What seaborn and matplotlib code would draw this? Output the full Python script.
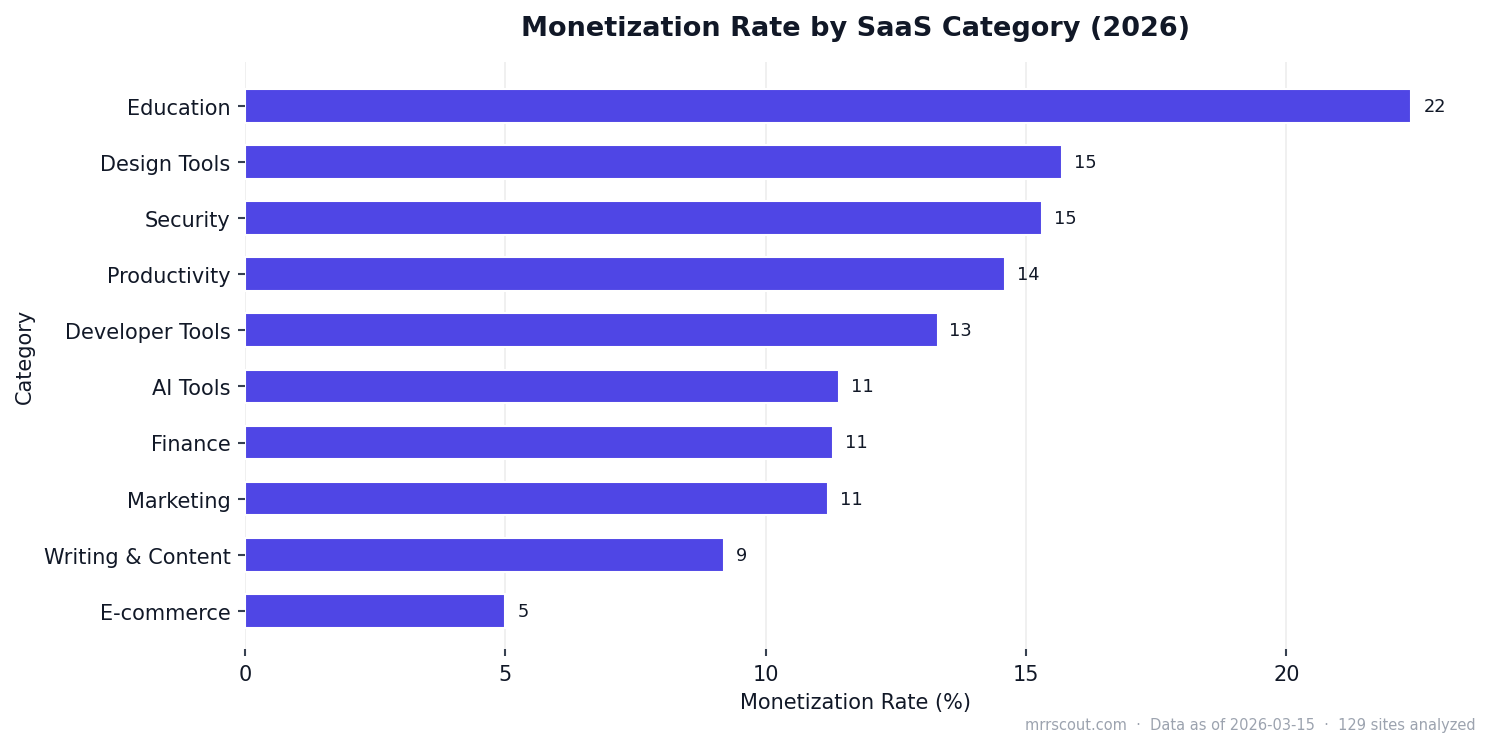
import matplotlib
matplotlib.use("Agg")
import matplotlib.pyplot as plt
import seaborn as sns
import pandas as pd

categories = ["Education", "Design Tools", "Security", "Productivity", "Developer Tools",
              "AI Tools", "Finance", "Marketing", "Writing & Content", "E-commerce"]
rates = [22.4, 15.7, 15.3, 14.6, 13.3, 11.4, 11.3, 11.2, 9.2, 5.0]

df = pd.DataFrame({"Category": categories, "Rate": rates})

sns.set_style("white")
plt.rcParams["font.family"] = ["DejaVu Sans"]
dark = "#111827"

fig = plt.figure(figsize=(9.94, 4.993), dpi=150)
ax = fig.add_axes([245 / 1491, 1 - 650 / 749, (1466 - 245) / 1491, (650 - 63) / 749])

sns.barplot(data=df, x="Rate", y="Category", color="#4F46E5", width=0.6,
            saturation=1, ax=ax, zorder=2)

for i, v in enumerate(rates):
    ax.text(v + 0.23, i, f"{int(v)}", va="center", ha="left", fontsize=8.5, color=dark)

ax.set_xlim(0, 23.45)
ax.set_ylim(9.68, -0.78)
ax.grid(axis="x", color="#EEEEEE", linewidth=0.8, zorder=0)
ax.set_axisbelow(True)
sns.despine(ax=ax, left=True, bottom=True)
ax.tick_params(axis="both", bottom=True, left=True, color="#374151", labelsize=10,
               length=3.5, width=1, labelcolor=dark)
ax.set_xlabel("Monetization Rate (%)", fontsize=10, color=dark)
ax.set_ylabel("Category", fontsize=10, color=dark)
ax.set_title("Monetization Rate by SaaS Category (2026)", fontsize=13, fontweight="bold",
             color=dark, pad=13)

fig.text(1476 / 1491, 1 - 726 / 749, "mrrscout.com  ·  Data as of 2026-03-15  ·  129 sites analyzed",
         ha="right", va="center", fontsize=7, color="#9CA3AF")

fig.savefig("out.png", dpi=150)
